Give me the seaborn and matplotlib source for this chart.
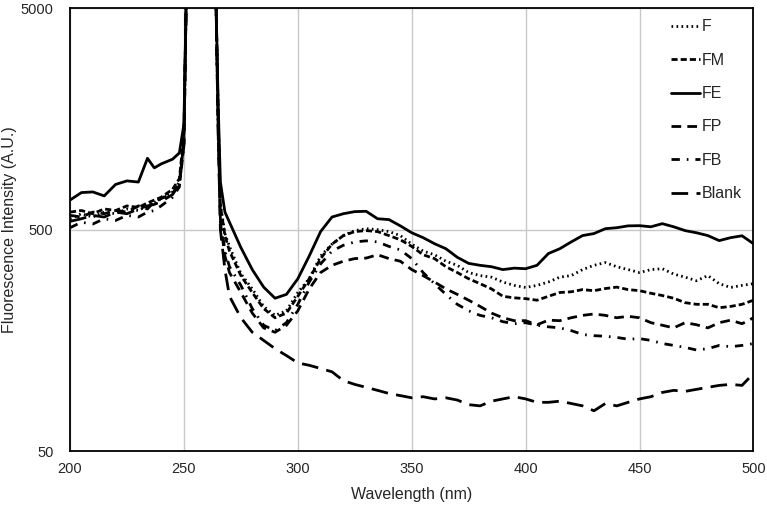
import matplotlib
matplotlib.use("Agg")
import matplotlib.pyplot as plt
import numpy as np
import pandas as pd
import seaborn as sns
from matplotlib.ticker import FixedLocator, NullLocator, FuncFormatter

# wavelength grid (nm)
wl = [200, 205, 210, 215, 220, 225, 230, 234, 237, 240, 245, 248, 250, 251, 253, 258, 262, 264, 265, 266,
      268, 270, 275, 280, 285, 290, 295, 300, 305, 310, 315, 320, 325, 330, 335, 340, 345, 350, 355, 360,
      365, 370, 375, 380, 385, 390, 395, 400, 405, 410, 415, 420, 425, 430, 435, 440, 445, 450, 455, 460,
      465, 470, 475, 480, 485, 490, 495, 500]

# off-scale scatter peak between ~251 and ~264 nm
peak = [5500, 20000, 20000, 20000, 6000]

F = [560, 590, 570, 600, 590, 620, 610, 640, 660, 690, 740, 820, 1300] + peak + [1700, 650,
     480, 420, 316, 270, 225, 205, 215, 260, 300, 380, 430, 470, 495, 505, 500, 490, 470, 430, 400, 385,
     360, 345, 320, 310, 305, 290, 280, 274, 280, 290, 305, 310, 330, 345, 355, 340, 330, 320, 330, 333,
     315, 305, 294, 310, 285, 274, 280, 285]

FM = [600, 610, 590, 620, 610, 640, 630, 660, 680, 700, 760, 850, 1350] + peak + [1700, 640,
      470, 400, 310, 260, 220, 200, 210, 250, 300, 370, 430, 470, 490, 495, 490, 470, 450, 420, 385, 370,
      340, 320, 300, 285, 270, 250, 246, 244, 240, 250, 260, 262, 268, 265, 271, 275, 268, 265, 258, 252,
      245, 234, 230, 230, 222, 225, 230, 240]

FE = [680, 735, 740, 710, 800, 830, 820, 1050, 950, 990, 1040, 1110, 1500] + peak + [1900, 820,
      600, 540, 415, 330, 275, 245, 255, 300, 380, 490, 570, 590, 603, 605, 560, 555, 520, 484, 460, 432,
      410, 375, 352, 345, 340, 330, 335, 333, 345, 390, 410, 440, 470, 480, 505, 510, 520, 521, 515, 532,
      515, 495, 484, 470, 446, 460, 469, 432]

FP = [580, 570, 600, 590, 610, 600, 640, 620, 670, 690, 730, 800, 1250] + peak + [1500, 540,
      380, 320, 260, 210, 180, 172, 185, 215, 270, 320, 345, 360, 370, 372, 385, 370, 360, 330, 310, 290,
      270, 255, 240, 225, 210, 200, 194, 194, 186, 195, 194, 200, 205, 208, 205, 200, 203, 200, 190, 185,
      180, 190, 186, 180, 190, 195, 188, 200]

FB = [510, 540, 530, 560, 550, 580, 570, 600, 610, 640, 700, 780, 1200] + peak + [1500, 560,
      400, 340, 280, 220, 185, 175, 190, 230, 290, 350, 400, 425, 440, 445, 440, 420, 405, 370, 320, 285,
      255, 230, 215, 205, 200, 192, 188, 190, 185, 182, 180, 175, 168, 166, 165, 163, 160, 161, 158, 153,
      150, 147, 143, 145, 150, 148, 150, 153]

Blank = [545, 560, 580, 570, 600, 590, 620, 640, 650, 670, 720, 800, 1200] + peak + [1400, 500,
         330, 250, 200, 172, 158, 145, 135, 125, 122, 118, 114, 104, 100, 97, 94, 91, 89, 87, 88, 86,
         87, 85, 81, 80, 84, 86, 88, 86, 83, 83, 84, 82, 80, 76, 82, 80, 83, 86, 88, 92,
         94, 93, 95, 97, 99, 100, 99, 112]

names = ["F", "FM", "FE", "FP", "FB", "Blank"]
series = [F, FM, FE, FP, FB, Blank]

rows = []
for name, vals in zip(names, series):
    for w, v in zip(wl, vals):
        rows.append({"wl": w, "val": v, "sample": name})
df = pd.DataFrame(rows)

dash_map = {
    "F": (0.6, 1.2),
    "FM": (2.2, 1.1),
    "FE": "",
    "FP": (3.5, 2.2),
    "FB": (3, 2.5, 0.6, 2.5),
    "Blank": (6, 3),
}

sns.set_style("white")
plt.rcParams["font.family"] = ["Liberation Sans", "DejaVu Sans"]

fig = plt.figure(figsize=(7.67, 5.12), dpi=100)
ax = fig.add_axes([0.0913, 0.119, 0.891, 0.865])

sns.lineplot(data=df, x="wl", y="val", style="sample", style_order=names, dashes=dash_map,
             color="black", linewidth=2, estimator=None, sort=False, ax=ax)

ax.set_yscale("log")
ax.set_xlim(200, 500)
ax.set_ylim(50, 5000)
ax.set_xticks([200, 250, 300, 350, 400, 450, 500])
ax.yaxis.set_major_locator(FixedLocator([50, 500, 5000]))
ax.yaxis.set_minor_locator(NullLocator())
ax.yaxis.set_major_formatter(FuncFormatter(lambda v, p: f"{int(round(v))}"))
ax.grid(True, color="#c8c8c8", linewidth=1)
ax.tick_params(length=0, labelsize=10.5)
ax.tick_params(axis="x", pad=8)
ax.tick_params(axis="y", pad=12)
for s in ax.spines.values():
    s.set_color("black")
    s.set_linewidth(1.3)

ax.set_xlabel("Wavelength (nm)", fontsize=11.5, labelpad=8)
ax.set_ylabel("Fluorescence Intensity (A.U.)", fontsize=11.5)
ax.yaxis.set_label_coords(-0.078, 0.5)

leg = ax.legend(loc="upper right", frameon=False, fontsize=11.5, handlelength=1.8,
                handletextpad=0.15, labelspacing=1.15, borderaxespad=0.3)

fig.savefig("out.png", dpi=100)
